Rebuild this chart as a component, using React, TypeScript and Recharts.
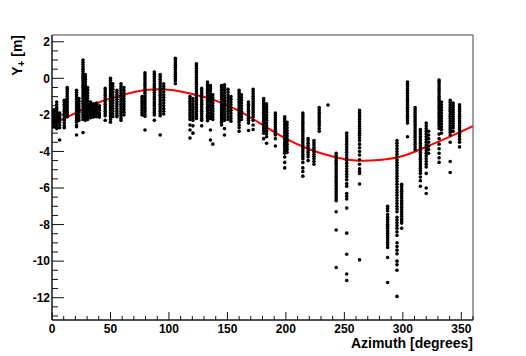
import React from 'react'
import { ComposedChart, Scatter, Line, XAxis, YAxis, ReferenceArea } from 'recharts'

// azimuth of each measurement column [degrees]
const columnAzimuth = [
  1.5, 4, 6.5, 10.5, 13, 21, 23, 26.5, 28.5, 30.5, 33, 35.5, 38, 40.5, 45.5, 50, 52, 55.5, 59, 61.5,
  77, 79.5, 87.5, 92.5, 95.5, 105.5, 118, 120.5, 123.5, 128, 133, 135.5, 137.5, 145, 147.5, 150.5, 153,
  160, 162, 168, 172, 181, 183.5, 191, 199, 201, 214.5, 219, 224, 228.5, 236, 243, 252, 263, 287, 295,
  299, 304, 310.5, 315, 320, 322, 331, 333, 340.5, 343, 348.5,
]

// Y+ values measured in each column [m]
const columnY = [
  [-1.72, -1.8, -1.9, -2.0, -2.08, -2.15, -2.22, -2.3, -2.38, -2.45, -2.52, -2.6, -2.66],
  [-1.3, -1.45, -1.6, -1.7, -1.82, -1.95, -2.05, -2.15, -2.3, -2.4, -2.5, -2.65, -2.75],
  [-1.9, -2.0, -2.1, -2.2, -2.3, -2.4, -2.55, -2.7, -3.37],
  [-1.2, -1.3, -1.42, -1.55, -1.68, -1.8, -1.92, -2.05, -2.18, -2.3, -2.45, -2.6, -2.7],
  [-0.5, -0.6, -0.72, -0.85, -0.98, -1.1, -1.22, -1.35, -1.48, -1.6, -1.72, -1.85, -1.98, -2.1],
  [-0.65, -0.78, -0.9, -1.02, -1.15, -1.28, -1.4, -1.52, -1.65, -1.78, -1.9, -2.02, -2.15, -2.28, -2.4, -2.55, -2.65, -3.1],
  [-1.1, -1.25, -1.4, -1.55, -1.7, -1.85, -2.0, -2.15, -2.3],
  [1.0, 0.88, 0.75, 0.62, 0.5, 0.38, 0.25, 0.12, 0, -0.12, -0.25, -0.38, -0.5, -0.62, -0.75, -0.88, -1.0, -1.12, -1.25, -1.38, -1.5, -1.62, -1.75, -1.88, -2.0, -2.12, -2.25, -2.97],
  [0.2, 0.08, -0.05, -0.18, -0.3, -0.42, -0.55, -0.68, -0.8, -0.92, -1.05, -1.18, -1.3, -1.42, -1.55, -1.68, -1.8, -1.92, -2.05, -2.18, -2.3],
  [-0.5, -0.65, -0.8, -0.95, -1.1, -1.25, -1.4, -1.55, -1.7, -1.85, -2.0, -2.12, -2.25],
  [-1.3, -1.42, -1.55, -1.68, -1.8, -1.92, -2.05, -2.15],
  [-1.4, -1.52, -1.65, -1.78, -1.9, -2.02, -2.12],
  [-1.35, -1.48, -1.6, -1.72, -1.85, -1.98, -2.1],
  [-1.5, -1.62, -1.75, -1.88, -2.0, -2.12],
  [-0.55, -0.68, -0.8, -0.92, -1.05, -1.18, -1.3, -1.42, -1.55, -1.68, -1.8, -1.92, -2.05, -2.3],
  [0, -0.12, -0.25, -0.38, -0.5, -0.62, -0.75, -0.88, -1.0, -1.12, -1.25, -1.38, -1.5, -1.62, -1.75, -1.88, -2.0, -2.12, -2.25, -2.4],
  [-0.3, -0.45, -0.6, -0.75, -0.9, -1.05, -1.2, -1.35, -1.5, -1.65, -1.8, -1.95, -2.1],
  [-0.65, -0.78, -0.9, -1.02, -1.15, -1.28, -1.4, -1.52, -1.65, -1.78, -1.9, -2.02, -2.1],
  [-0.3, -0.42, -0.55, -0.68, -0.8, -0.92, -1.05, -1.18, -1.3, -1.42, -1.55, -1.68, -1.8, -1.92, -2.05, -2.18, -2.3],
  [-0.5, -0.65, -0.8, -0.95, -1.1, -1.25, -1.4, -1.55, -1.7, -1.85, -2.0],
  [-1.0, -1.12, -1.25, -1.38, -1.5, -1.62, -1.75, -1.88, -2.0],
  [0.3, 0.18, 0.05, -0.08, -0.2, -0.32, -0.45, -0.58, -0.7, -0.82, -0.95, -1.08, -1.2, -1.32, -1.45, -1.58, -1.7, -1.82, -1.95, -2.08, -2.83],
  [0.35, 0.22, 0.1, -0.02, -0.15, -0.28, -0.4, -0.52, -0.65, -0.78, -0.9, -1.02, -1.15, -1.28, -1.4, -1.52, -1.65, -1.78, -1.9, -2.0, -2.3],
  [0.2, 0.08, -0.05, -0.18, -0.3, -0.42, -0.55, -0.68, -0.8, -0.92, -1.05, -1.18, -1.3, -1.42, -1.55, -1.68, -1.8, -1.92, -2.05, -3.1],
  [-0.3, -0.45, -0.6, -0.75, -0.9, -1.05, -1.2, -1.35, -1.5, -1.65, -1.8, -1.95],
  [1.1, 0.98, 0.85, 0.72, 0.6, 0.48, 0.35, 0.22, 0.1, -0.02, -0.15, -0.3],
  [-1.0, -1.12, -1.25, -1.38, -1.5, -1.62, -1.75, -1.88, -2.0, -2.12, -2.25, -2.55, -2.83, -3.27],
  [-1.1, -1.25, -1.4, -1.55, -1.7, -1.85, -2.0, -2.15, -2.3, -2.6, -3.0],
  [0.8, 0.68, 0.55, 0.42, 0.3, 0.18, 0.05, -0.08, -0.2, -0.32, -0.45, -0.58, -0.7, -0.82, -0.95, -1.08, -1.2, -1.32, -1.45, -1.58, -1.7, -1.82, -1.95, -2.08, -2.2],
  [-0.55, -0.68, -0.8, -0.92, -1.05, -1.18, -1.3, -1.42, -1.55, -1.68, -1.8, -1.92, -2.05, -2.18, -2.3, -2.6],
  [-0.2, -0.32, -0.45, -0.58, -0.7, -0.82, -0.95, -1.08, -1.2, -1.32, -1.45, -1.58, -1.7, -1.82, -1.95, -2.08, -2.2, -2.32],
  [-0.4, -0.55, -0.7, -0.85, -1.0, -1.15, -1.3, -1.45, -1.6, -1.75, -1.9, -2.05, -2.2, -2.83, -3.37],
  [-0.9, -1.05, -1.2, -1.35, -1.5, -1.65, -1.8, -1.95, -2.1, -2.25, -3.6],
  [-0.4, -0.52, -0.65, -0.78, -0.9, -1.02, -1.15, -1.28, -1.4, -1.52, -1.65, -1.78, -1.9, -2.02, -2.15, -2.28, -2.4, -2.55],
  [-0.35, -0.5, -0.65, -0.8, -0.95, -1.1, -1.25, -1.4, -1.55, -1.7, -1.85, -2.0, -2.15, -2.3, -2.75, -3.1],
  [-0.6, -0.75, -0.9, -1.05, -1.2, -1.35, -1.5, -1.65, -1.8, -1.95, -2.1, -2.25],
  [-1.0, -1.15, -1.3, -1.45, -1.6, -1.75, -1.9, -2.05, -2.2, -2.35],
  [-0.65, -0.78, -0.9, -1.02, -1.15, -1.28, -1.4, -1.52, -1.65, -1.78, -1.9, -2.02, -2.15, -2.28, -2.4, -2.55, -2.7, -2.9],
  [-0.9, -1.05, -1.2, -1.35, -1.5, -1.65, -1.8, -1.95, -2.1, -2.25],
  [-1.3, -1.42, -1.55, -1.68, -1.8, -1.92, -2.05, -2.18, -2.3, -2.45, -2.85],
  [-0.6, -0.72, -0.85, -0.98, -1.1, -1.22, -1.35, -1.48, -1.6, -1.72, -1.85, -1.98, -2.1, -2.3, -2.55, -2.8],
  [-1.1, -1.22, -1.35, -1.48, -1.6, -1.72, -1.85, -1.98, -2.1, -2.22, -2.35, -2.48, -2.6, -2.72, -2.85, -3.0, -3.3],
  [-1.4, -1.55, -1.7, -1.85, -2.0, -2.15, -2.3, -2.45, -2.6, -2.75, -2.9, -3.05, -3.2, -3.55],
  [-1.9, -2.02, -2.15, -2.28, -2.4, -2.52, -2.65, -2.78, -2.9, -3.02, -3.1, -3.3, -3.7],
  [-2.1, -2.22, -2.35, -2.48, -2.6, -2.72, -2.85, -2.98, -3.1, -3.22, -3.35, -3.48, -3.6, -3.72, -3.85, -3.98, -4.1, -4.3, -4.6, -4.9],
  [-2.4, -2.55, -2.7, -2.85, -3.0, -3.15, -3.3, -3.45, -3.6, -3.75, -3.9, -4.05],
  [-1.9, -2.02, -2.15, -2.28, -2.4, -2.52, -2.65, -2.78, -2.9, -3.02, -3.15, -3.28, -3.4, -3.52, -3.65, -3.78, -3.9, -4.02, -4.15, -4.28, -4.4, -4.6, -4.9, -5.1, -5.35],
  [-3.3, -3.42, -3.55, -3.68, -3.8, -3.92, -4.05, -4.18, -4.3, -4.5],
  [-3.4, -3.52, -3.65, -3.78, -3.9, -4.02, -4.15, -4.28, -4.4, -4.55, -4.7],
  [-1.6, -1.72, -1.85, -1.98, -2.1, -2.22, -2.35, -2.48, -2.6, -2.75, -2.9],
  [-1.46],
  [-4.1, -4.22, -4.35, -4.48, -4.6, -4.72, -4.85, -4.98, -5.1, -5.22, -5.35, -5.48, -5.6, -5.72, -5.85, -5.98, -6.1, -6.22, -6.35, -6.48, -6.6, -6.7, -7.3, -8.3, -10.35],
  [-3.0, -3.15, -3.3, -3.45, -3.6, -3.75, -3.9, -4.05, -4.2, -4.35, -4.5, -4.65, -4.8, -4.95, -5.1, -5.25, -5.4, -5.55, -5.75, -5.9, -6.3, -6.45, -6.6, -7.1, -8.47, -9.62, -10.7, -11.06],
  [-1.75, -1.87, -2.0, -2.12, -2.25, -2.38, -2.5, -2.62, -2.75, -2.88, -3.0, -3.12, -3.25, -3.4, -3.6, -3.8, -4.0, -4.2, -4.45, -4.7, -4.95, -5.1, -5.2, -5.78, -9.93],
  [-7.0, -7.12, -7.25, -7.45, -7.6, -7.72, -7.85, -7.98, -8.1, -8.22, -8.35, -8.48, -8.6, -8.72, -8.85, -8.98, -9.1, -9.25, -9.8, -11.17],
  [-3.4, -3.55, -3.7, -3.85, -4.0, -4.15, -4.3, -4.45, -4.6, -4.75, -4.9, -5.05, -5.2, -5.35, -5.5, -5.65, -5.8, -5.95, -6.1, -6.25, -6.4, -6.55, -6.7, -6.85, -7.0, -7.15, -7.3, -7.6, -7.75, -7.9, -8.05, -8.2, -8.4, -8.6, -9.0, -9.2, -9.4, -9.6, -10.0, -10.2, -10.5, -11.93],
  [-5.8, -5.92, -6.05, -6.18, -6.3, -6.42, -6.55, -6.68, -6.8, -6.92, -7.05, -7.18, -7.3, -7.42, -7.55, -7.68, -7.8, -7.92, -8.2],
  [-0.2, -0.32, -0.45, -0.58, -0.7, -0.82, -0.95, -1.08, -1.2, -1.32, -1.45, -1.58, -1.7, -1.82, -1.95, -2.08, -2.2, -2.32, -2.45, -3.2],
  [-1.6, -1.72, -1.85, -1.98, -2.1, -2.22, -2.35, -2.48, -2.6, -2.72, -2.85, -2.98, -3.1, -3.22, -3.35, -3.48, -3.6, -3.75, -3.9],
  [-2.8, -2.92, -3.05, -3.18, -3.3, -3.42, -3.55, -3.68, -3.8, -3.92, -4.05, -4.18, -4.3, -4.42, -4.55, -4.68, -4.8, -4.92, -5.05, -5.2, -5.4, -5.6, -5.9],
  [-2.45, -2.6, -2.75, -2.9, -3.05, -3.2, -3.35, -3.5, -3.65, -3.8, -3.95, -4.1, -4.25, -4.4, -4.55, -4.7, -4.85, -5.2, -6.0, -6.3],
  [-2.9, -3.1, -3.3, -3.5, -3.7, -3.9, -4.1],
  [-0.1, -0.22, -0.35, -0.48, -0.6, -0.72, -0.85, -0.98, -1.1, -1.22, -1.35, -1.48, -1.6, -1.72, -1.85, -1.98, -2.1, -2.22, -2.35, -2.48, -2.6, -2.75, -3.05, -3.3, -3.6, -3.85, -4.1, -4.35, -4.6],
  [-1.3, -1.45, -1.6, -1.75, -1.9, -2.05, -2.2, -2.35, -2.5, -2.65, -2.8, -3.0],
  [-1.2, -1.32, -1.45, -1.58, -1.7, -1.82, -1.95, -2.08, -2.2, -2.32, -2.45, -2.58, -2.7, -2.82, -2.95, -3.1, -3.5, -4.55, -5.15],
  [-1.35, -1.48, -1.6, -1.72, -1.85, -1.98, -2.1, -2.22, -2.35, -2.48, -2.6, -2.72, -2.9],
  [-1.45, -1.57, -1.7, -1.82, -1.95, -2.08, -2.2, -2.32, -2.45, -2.58, -2.7, -2.82, -2.95, -3.08, -3.2, -3.35, -3.5, -3.75],
]

// fitted curve
const fitAzimuth = [0, 20, 40, 60, 80, 100, 120, 140, 160, 180, 200, 220, 240, 260, 280, 300, 320, 340, 360]
const fitY = [-2.5, -1.9, -1.32, -0.92, -0.64, -0.62, -0.86, -1.22, -1.78, -2.55, -3.3, -3.88, -4.28, -4.5, -4.47, -4.25, -3.75, -3.2, -2.62]

const xTicks = [0, 10, 20, 30, 40, 50, 60, 70, 80, 90, 100, 110, 120, 130, 140, 150, 160, 170, 180, 190, 200, 210, 220, 230, 240, 250, 260, 270, 280, 290, 300, 310, 320, 330, 340, 350, 360]
const yTicks = [-13, -12.5, -12, -11.5, -11, -10.5, -10, -9.5, -9, -8.5, -8, -7.5, -7, -6.5, -6, -5.5, -5, -4.5, -4, -3.5, -3, -2.5, -2, -1.5, -1, -0.5, 0, 0.5, 1, 1.5, 2]

const points = columnAzimuth.flatMap((az, i) => columnY[i].map((y) => ({ x: az, y })))
const fitData = fitAzimuth.map((x, i) => ({ x, y: fitY[i] }))

const FONT = '"Liberation Sans", Arial, Helvetica, sans-serif'

const XTick = (props: any) => {
  const { x, y, payload } = props
  const v = payload.value
  const major = v % 50 === 0
  return (
    <g>
      <line x1={x} x2={x} y1={y} y2={y - (major ? 8 : 4)} stroke="#111" />
      {major && v < 360 && (
        <text x={x} y={y + 12.5} textAnchor="middle" fontFamily={FONT} fontWeight="bold" fontSize={12} fill="#000">
          {v}
        </text>
      )}
    </g>
  )
}

const YTick = (props: any) => {
  const { x, y, payload } = props
  const v = payload.value
  const major = v % 2 === 0
  return (
    <g>
      <line x1={x} x2={x + (major ? 12 : 6)} y1={y} y2={y} stroke="#111" />
      {major && (
        <text x={x - 2} y={y + 4.3} textAnchor="end" fontFamily={FONT} fontWeight="bold" fontSize={12} fill="#000">
          {v}
        </text>
      )}
    </g>
  )
}

const Dot = (props: any) => <circle cx={props.cx} cy={props.cy} r={1.8} fill="#000" />

export default function App() {
  return (
    <div style={{ position: 'absolute', left: 0, top: 0, width: 526, height: 356, background: '#fff' }}>
      <ComposedChart width={526} height={356} margin={{ top: 35, right: 53, bottom: 0, left: 0 }}>
        <ReferenceArea x1={0} x2={360} y1={-13.22} y2={2.37} fill="none" stroke="#444" strokeWidth={1} />
        <XAxis
          dataKey="x"
          type="number"
          domain={[0, 360]}
          allowDataOverflow
          ticks={xTicks}
          interval={0}
          height={36}
          tickSize={0}
          tickMargin={0}
          tick={<XTick />}
          tickLine={false}
          axisLine={{ stroke: '#000' }}
          label={{
            content: () => (
              <text x={473} y={348} textAnchor="end" fontFamily={FONT} fontWeight="bold" fontSize={14} fill="#000">
                Azimuth [degrees]
              </text>
            ),
          }}
        />
        <YAxis
          dataKey="y"
          type="number"
          domain={[-13.22, 2.37]}
          allowDataOverflow
          ticks={yTicks}
          interval={0}
          width={52}
          tickSize={0}
          tickMargin={0}
          tick={<YTick />}
          tickLine={false}
          axisLine={{ stroke: '#000' }}
          label={{
            content: () => (
              <text
                transform="translate(22,35) rotate(-90)"
                textAnchor="end"
                fontFamily={FONT}
                fontWeight="bold"
                fontSize={14}
                fill="#000"
              >
                Y<tspan fontSize={10} dy={3}>+</tspan>
                <tspan dy={-3}> [m]</tspan>
              </text>
            ),
          }}
        />
        <Scatter data={points} dataKey="y" shape={<Dot />} isAnimationActive={false} />
        <Line
          data={fitData}
          dataKey="y"
          type="natural"
          stroke="#ff0000"
          strokeWidth={2}
          dot={false}
          activeDot={false}
          isAnimationActive={false}
        />
      </ComposedChart>
    </div>
  )
}
